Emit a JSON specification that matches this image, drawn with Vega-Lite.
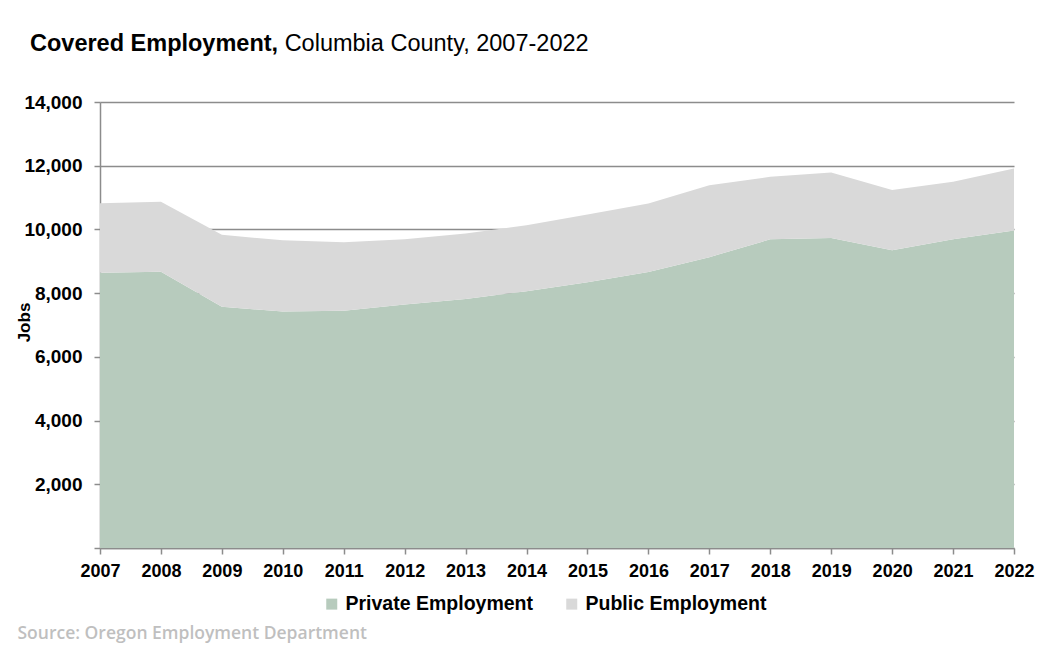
{
  "$schema": "https://vega.github.io/schema/vega-lite/v6.json",
  "width": 914,
  "height": 446,
  "autosize": {"type": "none"},
  "padding": {"left": 100, "top": 102, "right": 26, "bottom": 103},
  "background": "white",
  "config": {"font": "Liberation Sans", "view": {"stroke": null}},
  "title": {
    "text": "Covered Employment,",
    "subtitle": "\u200b\u00a0\u00a0\u00a0\u00a0\u00a0\u00a0\u00a0\u00a0\u00a0\u00a0\u00a0\u00a0\u00a0\u00a0\u00a0\u00a0\u00a0\u00a0\u00a0\u00a0\u00a0\u00a0\u00a0\u00a0\u00a0\u00a0\u00a0\u00a0\u00a0\u00a0\u00a0\u00a0\u00a0\u00a0\u00a0\u00a0\u00a0\u00a0\u00a0Columbia County, 2007-2022",
    "anchor": "start",
    "frame": "group",
    "dx": -70,
    "offset": 38,
    "font": "Liberation Sans",
    "fontSize": 23.5,
    "fontWeight": "bold",
    "color": "black",
    "subtitleFont": "Liberation Sans",
    "subtitleFontSize": 23.5,
    "subtitleFontWeight": "normal",
    "subtitleColor": "black",
    "subtitlePadding": -23.5
  },
  "data": {
    "values": [
      {"year": 2007, "type": "Private Employment", "jobs": 8640},
      {"year": 2008, "type": "Private Employment", "jobs": 8670},
      {"year": 2009, "type": "Private Employment", "jobs": 7570},
      {"year": 2010, "type": "Private Employment", "jobs": 7420},
      {"year": 2011, "type": "Private Employment", "jobs": 7450},
      {"year": 2012, "type": "Private Employment", "jobs": 7640},
      {"year": 2013, "type": "Private Employment", "jobs": 7820},
      {"year": 2014, "type": "Private Employment", "jobs": 8060},
      {"year": 2015, "type": "Private Employment", "jobs": 8340},
      {"year": 2016, "type": "Private Employment", "jobs": 8660},
      {"year": 2017, "type": "Private Employment", "jobs": 9130},
      {"year": 2018, "type": "Private Employment", "jobs": 9690},
      {"year": 2019, "type": "Private Employment", "jobs": 9730},
      {"year": 2020, "type": "Private Employment", "jobs": 9350},
      {"year": 2021, "type": "Private Employment", "jobs": 9690},
      {"year": 2022, "type": "Private Employment", "jobs": 9970},
      {"year": 2007, "type": "Public Employment", "jobs": 2180},
      {"year": 2008, "type": "Public Employment", "jobs": 2200},
      {"year": 2009, "type": "Public Employment", "jobs": 2260},
      {"year": 2010, "type": "Public Employment", "jobs": 2240},
      {"year": 2011, "type": "Public Employment", "jobs": 2150},
      {"year": 2012, "type": "Public Employment", "jobs": 2050},
      {"year": 2013, "type": "Public Employment", "jobs": 2055},
      {"year": 2014, "type": "Public Employment", "jobs": 2070},
      {"year": 2015, "type": "Public Employment", "jobs": 2130},
      {"year": 2016, "type": "Public Employment", "jobs": 2150},
      {"year": 2017, "type": "Public Employment", "jobs": 2260},
      {"year": 2018, "type": "Public Employment", "jobs": 1960},
      {"year": 2019, "type": "Public Employment", "jobs": 2060},
      {"year": 2020, "type": "Public Employment", "jobs": 1890},
      {"year": 2021, "type": "Public Employment", "jobs": 1810},
      {"year": 2022, "type": "Public Employment", "jobs": 1940}
    ]
  },
  "mark": {"type": "area", "interpolate": "linear"},
  "encoding": {
    "x": {
      "field": "year",
      "type": "quantitative",
      "scale": {"domain": [2007, 2022], "nice": false, "zero": false},
      "axis": {
        "values": [2007, 2008, 2009, 2010, 2011, 2012, 2013, 2014, 2015, 2016, 2017, 2018, 2019, 2020, 2021, 2022],
        "format": "d",
        "grid": false,
        "labelFont": "Liberation Sans",
        "labelFontSize": 18,
        "labelFontWeight": "bold",
        "labelColor": "black",
        "labelPadding": 8,
        "labelFlush": false,
        "labelOverlap": false,
        "tickColor": "#8c8c8c",
        "tickSize": 6,
        "tickWidth": 1.5,
        "domainColor": "#8c8c8c",
        "domainWidth": 1.5,
        "title": "Source: Oregon Employment Department",
        "titleX": -83,
        "titleY": 85,
        "titleAnchor": "start",
        "titleAlign": "left",
        "titleBaseline": "middle",
        "titleColor": "#bfbfbf",
        "titleFont": "Open Sans",
        "titleFontSize": 17.5,
        "titleFontWeight": 600
      }
    },
    "y": {
      "field": "jobs",
      "type": "quantitative",
      "stack": "zero",
      "scale": {"domain": [0, 14000], "nice": false},
      "axis": {
        "values": [0, 2000, 4000, 6000, 8000, 10000, 12000, 14000],
        "labelExpr": "datum.value == 0 ? '' : format(datum.value, ',')",
        "labelFont": "Liberation Sans",
        "labelFontSize": 19,
        "labelFontWeight": "bold",
        "labelColor": "black",
        "labelPadding": 12,
        "tickColor": "#8c8c8c",
        "tickSize": 6,
        "tickWidth": 1.5,
        "domainColor": "#8c8c8c",
        "domainWidth": 1.5,
        "grid": true,
        "gridColor": "#8c8c8c",
        "gridWidth": 1.5,
        "title": "Jobs",
        "titleFont": "Liberation Sans",
        "titleFontSize": 17,
        "titleFontWeight": "bold",
        "titleColor": "black",
        "titleX": -76,
        "titleY": 220,
        "titleAngle": -90,
        "titleAlign": "center",
        "titleBaseline": "middle"
      }
    },
    "order": {"field": "type", "sort": "ascending"},
    "color": {
      "field": "type",
      "type": "nominal",
      "scale": {"domain": ["Private Employment", "Public Employment"], "range": ["#b7cbbd", "#d9d9d9"]},
      "legend": {
        "orient": "none",
        "legendX": 222,
        "legendY": 492,
        "direction": "horizontal",
        "title": null,
        "symbolType": "square",
        "symbolSize": 121,
        "symbolStrokeWidth": 0,
        "symbolOpacity": 1,
        "labelFont": "Liberation Sans",
        "labelFontSize": 19.5,
        "labelFontWeight": "bold",
        "labelColor": "black",
        "labelLimit": 400,
        "labelOffset": 4,
        "columnPadding": 29
      }
    }
  }
}
